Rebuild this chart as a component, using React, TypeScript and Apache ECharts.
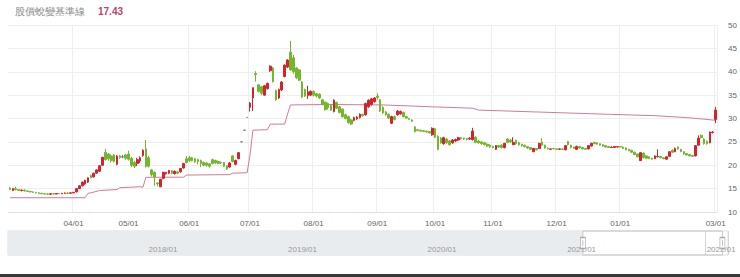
import React, { useEffect, useRef } from 'react';
import * as echarts from 'echarts';

const TITLE = '股價蛻變基準線';
const TITLE_VALUE = '17.43';

const HOLIDAYS = [
  '2021-03-01', '2021-04-02', '2021-04-05', '2021-04-30', '2021-06-14',
  '2021-09-20', '2021-09-21', '2021-10-11', '2021-12-31',
  '2022-01-27', '2022-01-28', '2022-01-31', '2022-02-01', '2022-02-02',
  '2022-02-03', '2022-02-04', '2022-02-28',
];

// [open, close, low, high]
const mar21 = [
  [15.1, 14.8, 14.7, 15.3], [14.6, 15.0, 14.5, 15.1], [15.0, 14.8, 14.6, 15.4], [14.8, 14.6, 14.5, 14.9],
  [14.6, 14.7, 14.4, 14.8], [14.7, 14.5, 14.4, 14.8], [14.5, 14.4, 14.3, 14.6], [14.4, 14.3, 14.2, 14.5],
  [14.3, 14.2, 14.1, 14.4], [14.2, 14.1, 14.0, 14.3], [14.1, 14.0, 13.9, 14.2], [14.0, 13.9, 13.8, 14.1],
  [13.9, 13.85, 13.75, 14.0], [13.85, 13.8, 13.7, 13.95], [13.8, 13.9, 13.75, 14.0], [13.9, 13.85, 13.8, 14.0],
  [13.85, 13.95, 13.8, 14.05], [13.95, 13.9, 13.85, 14.0], [13.9, 14.0, 13.85, 14.1], [14.0, 14.05, 13.9, 14.15],
  [14.05, 14.0, 13.95, 14.2], [14.0, 14.1, 13.95, 14.2],
];
const apr21 = [
  [14.1, 14.2, 14.0, 14.3], [14.3, 15.0, 14.2, 15.1], [15.0, 15.6, 14.9, 15.7], [15.6, 16.4, 15.5, 16.5],
  [16.0, 16.8, 15.8, 16.9], [16.4, 17.3, 16.2, 17.4], [17.8, 17.3, 17.2, 18.0], [17.5, 18.3, 17.4, 18.4],
  [18.3, 19.0, 18.2, 19.1], [18.7, 19.9, 18.6, 20.0], [20.0, 21.7, 19.9, 21.8], [22.8, 21.2, 21.0, 23.5],
  [22.4, 21.4, 21.0, 22.6], [22.0, 21.0, 20.6, 22.3], [22.2, 20.8, 20.6, 22.4], [20.2, 22.0, 20.0, 22.2],
  [22.0, 21.6, 21.4, 22.2], [21.8, 21.8, 21.5, 22.2], [22.2, 21.5, 21.2, 22.4],
];
const may21 = [
  [22.4, 21.3, 21.0, 23.1], [21.5, 20.0, 19.6, 21.8], [20.6, 19.8, 19.4, 20.9], [20.4, 21.2, 19.8, 21.6],
  [20.9, 21.6, 20.5, 21.9], [22.1, 23.2, 21.8, 23.4], [23.5, 19.7, 19.5, 25.4], [21.6, 19.8, 19.5, 22.0],
  [19.0, 18.0, 17.6, 19.2], [18.5, 17.5, 15.6, 18.7], [16.2, 16.0, 15.5, 16.4], [15.4, 17.0, 15.3, 17.1],
  [17.2, 18.5, 17.0, 18.6], [18.2, 18.5, 18.0, 18.6], [18.3, 18.9, 18.1, 19.0], [18.8, 18.3, 18.1, 19.0],
  [18.2, 18.7, 18.0, 18.9], [18.6, 18.3, 18.1, 18.8], [18.6, 19.3, 18.4, 19.4], [19.4, 20.4, 19.3, 20.5],
  [21.4, 20.6, 20.4, 22.0],
];
const jun21 = [
  [21.6, 21.0, 20.7, 22.0], [21.6, 21.0, 20.8, 21.8], [21.4, 20.8, 20.5, 21.6], [21.2, 20.8, 20.2, 21.4],
  [21.0, 20.4, 19.6, 21.2], [20.6, 20.0, 19.8, 20.8], [20.5, 20.0, 19.7, 20.6], [20.3, 19.8, 19.5, 20.4],
  [21.2, 20.4, 20.2, 21.4], [21.0, 20.5, 20.3, 21.2], [20.8, 20.4, 20.2, 21.0], [20.6, 20.5, 20.3, 20.8],
  [20.6, 19.8, 19.6, 20.7], [19.9, 19.2, 19.0, 20.0], [19.6, 20.5, 19.5, 20.7], [22.0, 20.8, 20.6, 22.2],
  [20.2, 21.0, 20.0, 21.2], [21.4, 22.7, 21.3, 22.8], [25.0, 25.0, 25.0, 25.0], [27.5, 27.5, 27.5, 27.5],
  [30.25, 30.25, 30.25, 30.25],
];
const jul21 = [
  [32.4, 33.3, 31.5, 33.5], [34.4, 36.6, 31.6, 36.6], [39.6, 39.4, 37.9, 40.1], [37.2, 35.8, 35.6, 37.4],
  [36.8, 35.4, 35.0, 37.0], [35.0, 37.0, 34.9, 37.2], [36.4, 37.5, 36.2, 37.7], [40.2, 41.2, 40.0, 41.4],
  [40.8, 37.9, 37.7, 41.0], [36.0, 34.0, 33.8, 36.2], [34.4, 36.2, 34.2, 36.4], [36.1, 37.8, 35.9, 38.0],
  [39.0, 41.4, 38.8, 41.6], [41.0, 42.5, 40.8, 42.7], [44.2, 40.4, 40.2, 46.6], [43.0, 40.0, 39.6, 43.6],
  [40.8, 38.7, 38.4, 41.0], [40.4, 38.2, 38.0, 40.6], [37.8, 34.6, 34.4, 38.0], [36.2, 34.8, 34.6, 36.4],
  [34.9, 35.7, 34.2, 37.0], [35.0, 35.8, 34.8, 36.0],
];
const aug21 = [
  [35.8, 35.0, 34.7, 36.0], [35.3, 34.8, 34.5, 35.5], [35.2, 34.4, 34.2, 35.4], [34.0, 33.0, 32.8, 34.2],
  [33.5, 31.9, 31.7, 33.6], [33.2, 32.3, 31.9, 33.4], [32.8, 31.8, 31.6, 33.0], [31.5, 33.9, 31.3, 34.1],
  [33.4, 32.2, 32.0, 33.6], [32.5, 31.3, 31.1, 32.7], [32.0, 30.4, 30.2, 32.2], [30.8, 30.0, 29.8, 31.0],
  [30.4, 29.1, 28.9, 30.6], [29.7, 28.8, 28.6, 29.9], [29.6, 30.2, 29.4, 30.4], [29.9, 30.3, 29.7, 30.5],
  [30.2, 30.9, 30.0, 31.1], [30.9, 30.6, 30.4, 31.0], [30.8, 33.2, 30.6, 33.4], [32.5, 33.9, 32.3, 34.1],
  [33.0, 34.2, 32.8, 34.4], [33.6, 34.4, 33.4, 34.6],
];
const sep21 = [
  [34.8, 34.5, 34.0, 35.4], [34.0, 31.6, 31.4, 34.2], [32.4, 31.2, 31.0, 32.6], [31.4, 30.8, 30.6, 31.6],
  [30.9, 30.1, 29.9, 31.1], [29.0, 30.4, 28.8, 30.6], [30.4, 29.8, 29.6, 30.6], [30.8, 31.6, 30.6, 31.8],
  [31.0, 31.5, 30.8, 31.7], [31.3, 30.4, 30.2, 31.5], [30.4, 30.1, 30.0, 30.5], [30.0, 29.8, 29.7, 30.1],
  [29.7, 29.4, 29.3, 29.8], [28.2, 27.2, 27.0, 28.4], [27.6, 27.4, 27.3, 27.7], [27.5, 27.3, 27.2, 27.6],
  [27.4, 27.2, 27.1, 27.5], [27.3, 27.1, 27.0, 27.4], [27.2, 26.9, 26.8, 27.3], [26.5, 27.9, 26.3, 28.1],
];
const oct21 = [
  [27.8, 26.0, 25.8, 28.0], [26.2, 23.4, 23.2, 26.4], [25.8, 24.8, 24.6, 26.0], [24.6, 25.9, 24.4, 26.1],
  [25.6, 24.8, 24.6, 25.8], [25.2, 24.4, 24.2, 25.4], [24.8, 25.4, 24.6, 25.6], [25.2, 25.5, 25.0, 25.7],
  [25.4, 25.9, 25.2, 26.1], [25.9, 25.7, 25.5, 26.0], [25.8, 25.6, 25.4, 25.9], [25.7, 25.5, 25.3, 25.8],
  [25.6, 25.8, 25.4, 26.0], [25.5, 27.3, 25.3, 28.0], [26.0, 24.9, 24.7, 26.2], [25.2, 24.8, 24.6, 25.4],
  [25.0, 24.6, 24.4, 25.2], [24.8, 24.4, 24.2, 25.0], [24.5, 24.1, 23.9, 24.7], [24.3, 23.9, 23.7, 24.5],
];
const nov21 = [
  [24.0, 23.8, 23.6, 24.2], [23.4, 24.2, 23.3, 24.3], [24.2, 23.9, 23.7, 24.3], [24.3, 23.8, 23.6, 24.5],
  [23.8, 24.7, 23.6, 24.8], [25.6, 24.9, 24.7, 25.8], [25.4, 25.0, 24.8, 25.6], [24.4, 24.9, 24.3, 26.0],
  [25.3, 24.6, 24.4, 25.5], [24.8, 24.4, 24.2, 25.0], [24.5, 24.2, 24.0, 24.6], [24.3, 24.0, 23.8, 24.4],
  [24.0, 23.7, 23.5, 24.1], [23.8, 23.4, 23.3, 23.9], [22.9, 23.6, 22.8, 23.7], [23.6, 23.3, 23.2, 23.7],
  [23.6, 24.7, 23.5, 24.8], [25.0, 24.3, 24.1, 25.8], [24.3, 23.7, 23.5, 24.4], [23.7, 23.5, 23.4, 23.8],
  [23.4, 23.5, 23.3, 23.6], [23.6, 23.5, 23.4, 23.7],
];
const dec21 = [
  [23.5, 23.4, 23.3, 23.6], [23.4, 23.5, 23.3, 23.6], [23.5, 23.4, 23.3, 23.6], [23.3, 24.2, 23.2, 24.3],
  [25.1, 24.4, 24.2, 25.2], [24.3, 23.8, 23.6, 24.4], [23.9, 23.6, 23.5, 24.0], [23.4, 24.0, 23.3, 24.2],
  [24.0, 23.7, 23.5, 24.1], [23.8, 23.5, 23.3, 23.9], [23.6, 23.4, 23.3, 23.7], [23.5, 24.2, 23.4, 24.3],
  [24.1, 24.7, 24.0, 24.8], [24.9, 24.6, 24.5, 25.0], [24.8, 24.5, 24.4, 24.9], [24.6, 24.3, 24.2, 24.7],
  [24.4, 24.1, 24.0, 24.5], [24.2, 23.9, 23.8, 24.3], [24.0, 23.8, 23.7, 24.1], [23.8, 23.9, 23.7, 24.0],
  [23.8, 24.0, 23.7, 24.1], [23.9, 24.0, 23.8, 24.1],
];
const jan22 = [
  [24.0, 23.9, 23.8, 24.1], [23.9, 23.6, 23.5, 24.0], [23.7, 23.3, 23.2, 23.8], [23.4, 23.1, 23.0, 23.5],
  [23.2, 22.8, 22.7, 23.3], [22.8, 22.3, 22.2, 22.9], [22.4, 21.8, 21.7, 22.5], [21.0, 22.7, 20.9, 22.8],
  [22.6, 21.6, 21.5, 22.7], [22.0, 21.5, 21.4, 22.1], [21.8, 21.4, 21.3, 21.9], [21.5, 21.3, 21.2, 21.6],
  [21.4, 22.0, 21.3, 22.1], [21.8, 21.9, 21.7, 23.4], [21.9, 21.6, 21.5, 22.0], [21.6, 21.4, 21.3, 21.7],
  [21.3, 21.8, 21.2, 21.9], [21.9, 22.9, 21.8, 23.0],
];
const feb22 = [
  [23.2, 22.8, 22.6, 23.4], [22.9, 23.6, 22.8, 23.8], [23.9, 23.5, 23.3, 24.0], [23.4, 22.9, 22.8, 23.5],
  [22.9, 22.4, 22.3, 23.0], [22.5, 22.2, 22.1, 22.6], [22.3, 22.0, 21.9, 22.4], [22.1, 21.9, 21.8, 22.2],
  [22.0, 24.2, 21.9, 24.3], [24.3, 25.8, 24.2, 26.4], [26.4, 25.9, 25.7, 26.6], [25.6, 24.6, 24.4, 25.8],
  [25.1, 24.6, 24.4, 25.3], [24.8, 27.1, 24.7, 27.2], [27.0, 27.1, 26.8, 27.3],
];
const mar22 = [[29.8, 31.8, 29.0, 32.5]];

// 股價蛻變基準線 break points: [category index], [value]
const baselineIdx = [0, 26, 27, 28, 31, 37, 38, 45, 46, 47, 60, 61, 76, 77, 82, 83, 84, 89, 90, 95, 96, 97, 110, 129, 146, 160, 162, 187, 207, 223, 234, 241, 244];
const baselineVal = [13.05, 13.05, 14.0, 14.1, 14.6, 14.8, 15.2, 15.4, 15.3, 17.42, 17.45, 17.9, 18.0, 18.3, 18.4, 22.2, 27.5, 27.6, 28.8, 28.8, 31.0, 32.9, 33.0, 32.9, 32.5, 32.2, 31.8, 31.3, 30.9, 30.6, 30.2, 29.8, 29.6];

const yearMin = 2017;
const yearMax = 2022.16;
const windowStart = 2021.12;
const windowEnd = 2022.12;

const UP = '#d3232b';
const DOWN = '#74b72e';
const LINE = '#d07a9c';

function tradingDays(): string[] {
  const out: string[] = [];
  const d = new Date(Date.UTC(2021, 2, 1));
  const end = Date.UTC(2022, 2, 1);
  while (d.getTime() <= end) {
    const dow = d.getUTCDay();
    const s = d.toISOString().slice(0, 10);
    if (dow !== 0 && dow !== 6 && HOLIDAYS.indexOf(s) < 0) out.push(s);
    d.setUTCDate(d.getUTCDate() + 1);
  }
  return out;
}

export default function App() {
  const ref = useRef<HTMLDivElement>(null);
  useEffect(() => {
    if (!ref.current) return;
    const chart = echarts.init(ref.current, undefined, { renderer: 'svg' });
    const candles = [
      ...mar21, ...apr21, ...may21, ...jun21, ...jul21, ...aug21,
      ...sep21, ...oct21, ...nov21, ...dec21, ...jan22, ...feb22, ...mar22,
    ];
    const dates = tradingDays().slice(0, candles.length);
    const monthStart = (i: number) =>
      i > 0 && i < dates.length && dates[i].slice(0, 7) !== dates[i - 1].slice(0, 7);
    const font = '"Liberation Sans", Arial, "Noto Sans CJK TC", sans-serif';

    chart.setOption({
      animation: false,
      textStyle: { fontFamily: font },
      graphic: [
        { type: 'text', left: 15, top: 6, style: { text: TITLE, fontSize: 10, fill: '#8a8a8a', font: `10px "Noto Sans CJK TC", sans-serif` } },
        { type: 'text', left: 98, top: 6, style: { text: TITLE_VALUE, fontSize: 10, fontWeight: 'bold', fill: '#c4436e', font: `bold 10px ${font}` } },
        { type: 'rect', left: 0, top: 274, shape: { width: 740, height: 3 }, style: { fill: '#3a3a3a' }, silent: true },
      ],
      grid: [
        { left: 8.5, right: 18, top: 25, bottom: 65 },
        { left: 8, top: 231, width: 720, height: 24, show: true, borderColor: '#dcdcdc', borderWidth: 1 },
      ],
      xAxis: [
        {
          type: 'category',
          data: dates,
          boundaryGap: true,
          axisLine: { lineStyle: { color: '#e0e0e0' } },
          axisTick: { show: false },
          axisLabel: {
            interval: (i: number) => monthStart(i) && dates[i].slice(5, 7) !== '02',
            formatter: (v: string) => v.slice(5, 7) + '/01',
            fontSize: 8,
            color: '#666',
            margin: 7,
          },
          splitLine: {
            show: true,
            interval: (i: number) => monthStart(i) && dates[i].slice(5, 7) !== '02' && dates[i].slice(5, 7) !== '05',
            lineStyle: { color: '#eeeeee', width: 1 },
          },
        },
        {
          type: 'value',
          gridIndex: 1,
          min: yearMin,
          max: yearMax,
          interval: 1,
          axisLine: { show: false },
          axisTick: { show: false },
          splitLine: { show: true, lineStyle: { color: '#d3d6da' } },
          axisLabel: {
            inside: true,
            showMinLabel: false,
            showMaxLabel: false,
            formatter: (v: number) => (Number.isInteger(v) && v > yearMin ? v + '/01' : ''),
            align: 'left',
            margin: 2,
            padding: [0, 0, 0, 1],
            fontSize: 8,
            color: '#999',
          },
        },
      ],
      yAxis: [
        {
          type: 'value',
          position: 'right',
          min: 10,
          max: 50,
          interval: 5,
          axisLine: { show: false },
          axisTick: { show: false },
          axisLabel: { fontSize: 8, color: '#666', margin: 11 },
          splitLine: { lineStyle: { color: '#efefef' } },
        },
        { type: 'value', gridIndex: 1, min: 0, max: 1, show: false },
      ],
      series: [
        {
          type: 'candlestick',
          data: candles,
          barWidth: '75%',
          itemStyle: {
            color: UP,
            color0: DOWN,
            borderColor: UP,
            borderColor0: DOWN,
            borderColorDoji: '#777',
            borderWidth: 1,
          },
        },
        {
          type: 'line',
          name: TITLE,
          data: baselineIdx.map((i, k) => [i, baselineVal[k]]),
          symbol: 'none',
          lineStyle: { color: LINE, width: 1 },
          z: 1,
        },
        {
          type: 'line',
          xAxisIndex: 1,
          yAxisIndex: 1,
          data: [[yearMin, 1], [windowStart, 1]],
          symbol: 'none',
          lineStyle: { width: 0 },
          areaStyle: { color: '#e9ecef', opacity: 1, origin: 'start' },
          silent: true,
          z: 0,
        },
        {
          type: 'line',
          xAxisIndex: 1,
          yAxisIndex: 1,
          data: [[windowStart, 0], [windowStart, 1], [windowEnd, 1], [windowEnd, 0], [windowStart, 0]],
          symbol: 'none',
          clip: false,
          lineStyle: { color: '#c8c8c8', width: 1 },
          silent: true,
        },
        {
          type: 'scatter',
          xAxisIndex: 1,
          yAxisIndex: 1,
          data: [[windowStart, 0.5], [windowEnd, 0.5]],
          symbol: 'path://M0,0L6,0L6,12L0,12Z M3,3L3,9',
          symbolSize: [5, 11],
          itemStyle: { color: '#fff', borderColor: '#999', borderWidth: 1 },
          silent: true,
          z: 5,
        },
      ],
    });
    return () => chart.dispose();
  }, []);
  return (
    <div style={{ position: 'absolute', left: 0, top: 0, width: 740, height: 277, background: '#fff' }}>
      <div ref={ref} style={{ width: 740, height: 277 }} />
    </div>
  );
}
